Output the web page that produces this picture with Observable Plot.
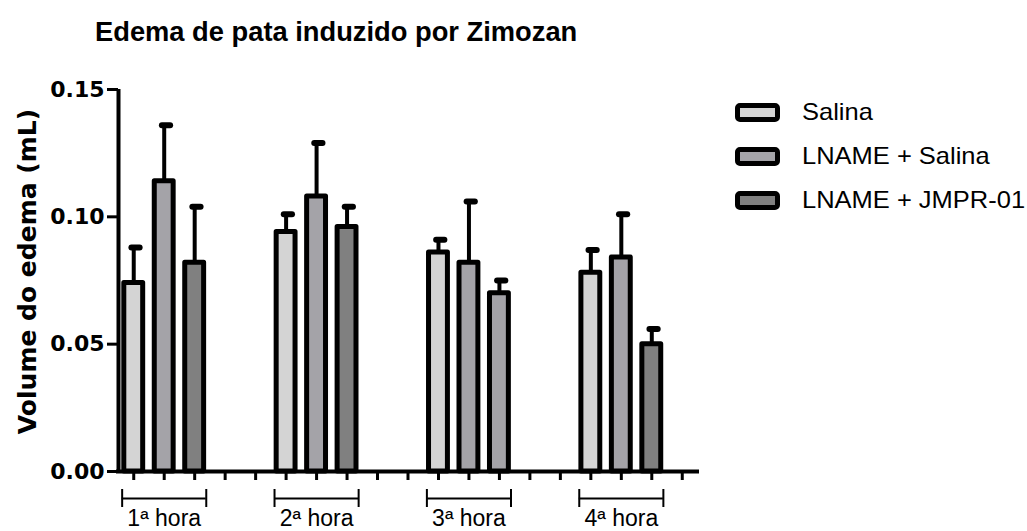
<!DOCTYPE html>
<html><head><meta charset="utf-8">
<script src="https://cdn.jsdelivr.net/npm/d3@7"></script>
<script src="https://cdn.jsdelivr.net/npm/@observablehq/plot@0.6"></script>
<style>
body{margin:0;background:#fff;}
#wrap{position:relative;width:1027px;height:531px;overflow:hidden;background:#fff;}
#wrap svg{position:absolute;left:0;top:0;}
#title{position:absolute;left:95px;top:18px;font:bold 27.3px "Liberation Sans",Arial,sans-serif;line-height:27px;white-space:nowrap;color:#000;}
#ytitle{position:absolute;left:-173px;top:258.5px;width:400px;text-align:center;font:bold 25px "DejaVu Sans",sans-serif;line-height:25px;transform:rotate(-90deg);white-space:nowrap;color:#000;}
#legend{position:absolute;left:735px;top:90px;}
.row{display:flex;align-items:center;height:44px;}
.sw{width:45px;height:19px;box-sizing:border-box;border:5px solid #000;border-radius:5px;flex:none;}
.lab{margin-left:22px;font:24px "Liberation Sans",Arial,sans-serif;color:#000;white-space:nowrap;display:inline-block;transform:scaleX(1.062);transform-origin:left center;}
</style>
</head><body>
<div id="wrap">
  <div id="chart"></div>
  <div id="title"></div>
  <div id="ytitle"></div>
  <div id="legend"></div>
</div>
<script>
// ---- data ----
const chartTitle = "Edema de pata induzido por Zimozan";
const yLabel = "Volume do edema (mL)";
const groups = ["1ª hora", "2ª hora", "3ª hora", "4ª hora"];
const series = ["Salina", "LNAME + Salina", "LNAME + JMPR-01"];
const salinaMean = [0.074, 0.094, 0.086, 0.078];
const salinaSem = [0.014, 0.007, 0.005, 0.009];
const lnameSalinaMean = [0.114, 0.108, 0.082, 0.084];
const lnameSalinaSem = [0.022, 0.021, 0.024, 0.017];
const jmprMean = [0.082, 0.096, 0.070, 0.050];
const jmprSem = [0.022, 0.008, 0.005, 0.006];
const yTicks = [0, 0.05, 0.10, 0.15];

// ---- style ----
const seriesFill = ["#d4d4d4", "#a4a3a8", "#808080"];
const fillOverride = {"3ª hora|LNAME + JMPR-01": "#a4a3a8"};
const slotsPerGroup = 5;

const means = [salinaMean, lnameSalinaMean, jmprMean];
const sems = [salinaSem, lnameSalinaSem, jmprSem];
const rows = [];
groups.forEach((g, gi) => {
  series.forEach((s, si) => {
    rows.push({
      group: g, series: s,
      slot: gi * slotsPerGroup + si,
      mean: means[si][gi],
      upper: means[si][gi] + sems[si][gi],
      fill: fillOverride[g + "|" + s] || seriesFill[si]
    });
  });
});
const nSlots = (groups.length - 1) * slotsPerGroup + series.length + 1;
const slots = d3.range(nSlots);
const xDomain = [-0.5, nSlots - 0.5];
const groupRows = groups.map((g, gi) => ({name: g, center: gi * slotsPerGroup + (series.length - 1) / 2}));
const bracketHalf = 1.38;
const bracketEnds = groupRows.flatMap(d => [{x: d.center - bracketHalf}, {x: d.center + bracketHalf}]);

const chart = Plot.plot({
  width: 1027, height: 531,
  marginLeft: 118, marginRight: 330, marginTop: 89, marginBottom: 60,
  style: {fontFamily: "Liberation Sans, Arial, sans-serif", background: "transparent", color: "#000"},
  x: {domain: xDomain},
  y: {domain: [0, 0.15]},
  marks: [
    Plot.ruleX(rows, {x: "slot", y1: "mean", y2: "upper", strokeWidth: 4, stroke: "#000"}),
    Plot.ruleY(rows, {y: "upper", x1: d => d.slot - 0.06, x2: d => d.slot + 0.21, strokeWidth: 6, strokeLinecap: "round", stroke: "#000"}),
    Plot.rectY(rows, {x1: d => d.slot - 0.31, x2: d => d.slot + 0.31, y1: 0, y2: "mean", fill: "fill", stroke: "#000", strokeWidth: 5, strokeLinejoin: "round"}),
    Plot.axisX({ticks: slots, tickFormat: () => "", tickSize: 9, strokeWidth: 3, label: null}),
    Plot.axisY({ticks: yTicks, tickFormat: d3.format(".2f"), tickSize: 11, tickPadding: 3, strokeWidth: 3, fontSize: 22, fontWeight: "bold", fontFamily: "DejaVu Sans", label: null}),
    Plot.ruleY([0], {strokeWidth: 4, stroke: "#000", strokeLinecap: "square"}),
    Plot.ruleX([xDomain[0]], {y1: 0, y2: 0.15, strokeWidth: 4, stroke: "#000"}),
    Plot.ruleY(groupRows, {y: 0, x1: d => d.center - bracketHalf, x2: d => d.center + bracketHalf, dy: 27, strokeWidth: 2, stroke: "#000"}),
    Plot.ruleX(bracketEnds, {x: "x", y1: 0, y2: 0, dy: 27, insetTop: -9, insetBottom: -9, strokeWidth: 2, stroke: "#000"}),
    Plot.text(groupRows, {x: "center", y: 0, dy: 47, text: "name", fontSize: 23, fill: "#000"})
  ]
});
document.getElementById("chart").appendChild(chart);
document.getElementById("title").textContent = chartTitle;
document.getElementById("ytitle").textContent = yLabel;
const legend = document.getElementById("legend");
series.forEach((s, i) => {
  const row = document.createElement("div");
  row.className = "row";
  const sw = document.createElement("div");
  sw.className = "sw";
  sw.style.background = seriesFill[i];
  const lab = document.createElement("span");
  lab.className = "lab";
  lab.textContent = s;
  row.appendChild(sw); row.appendChild(lab);
  legend.appendChild(row);
});
</script>
</body></html>
